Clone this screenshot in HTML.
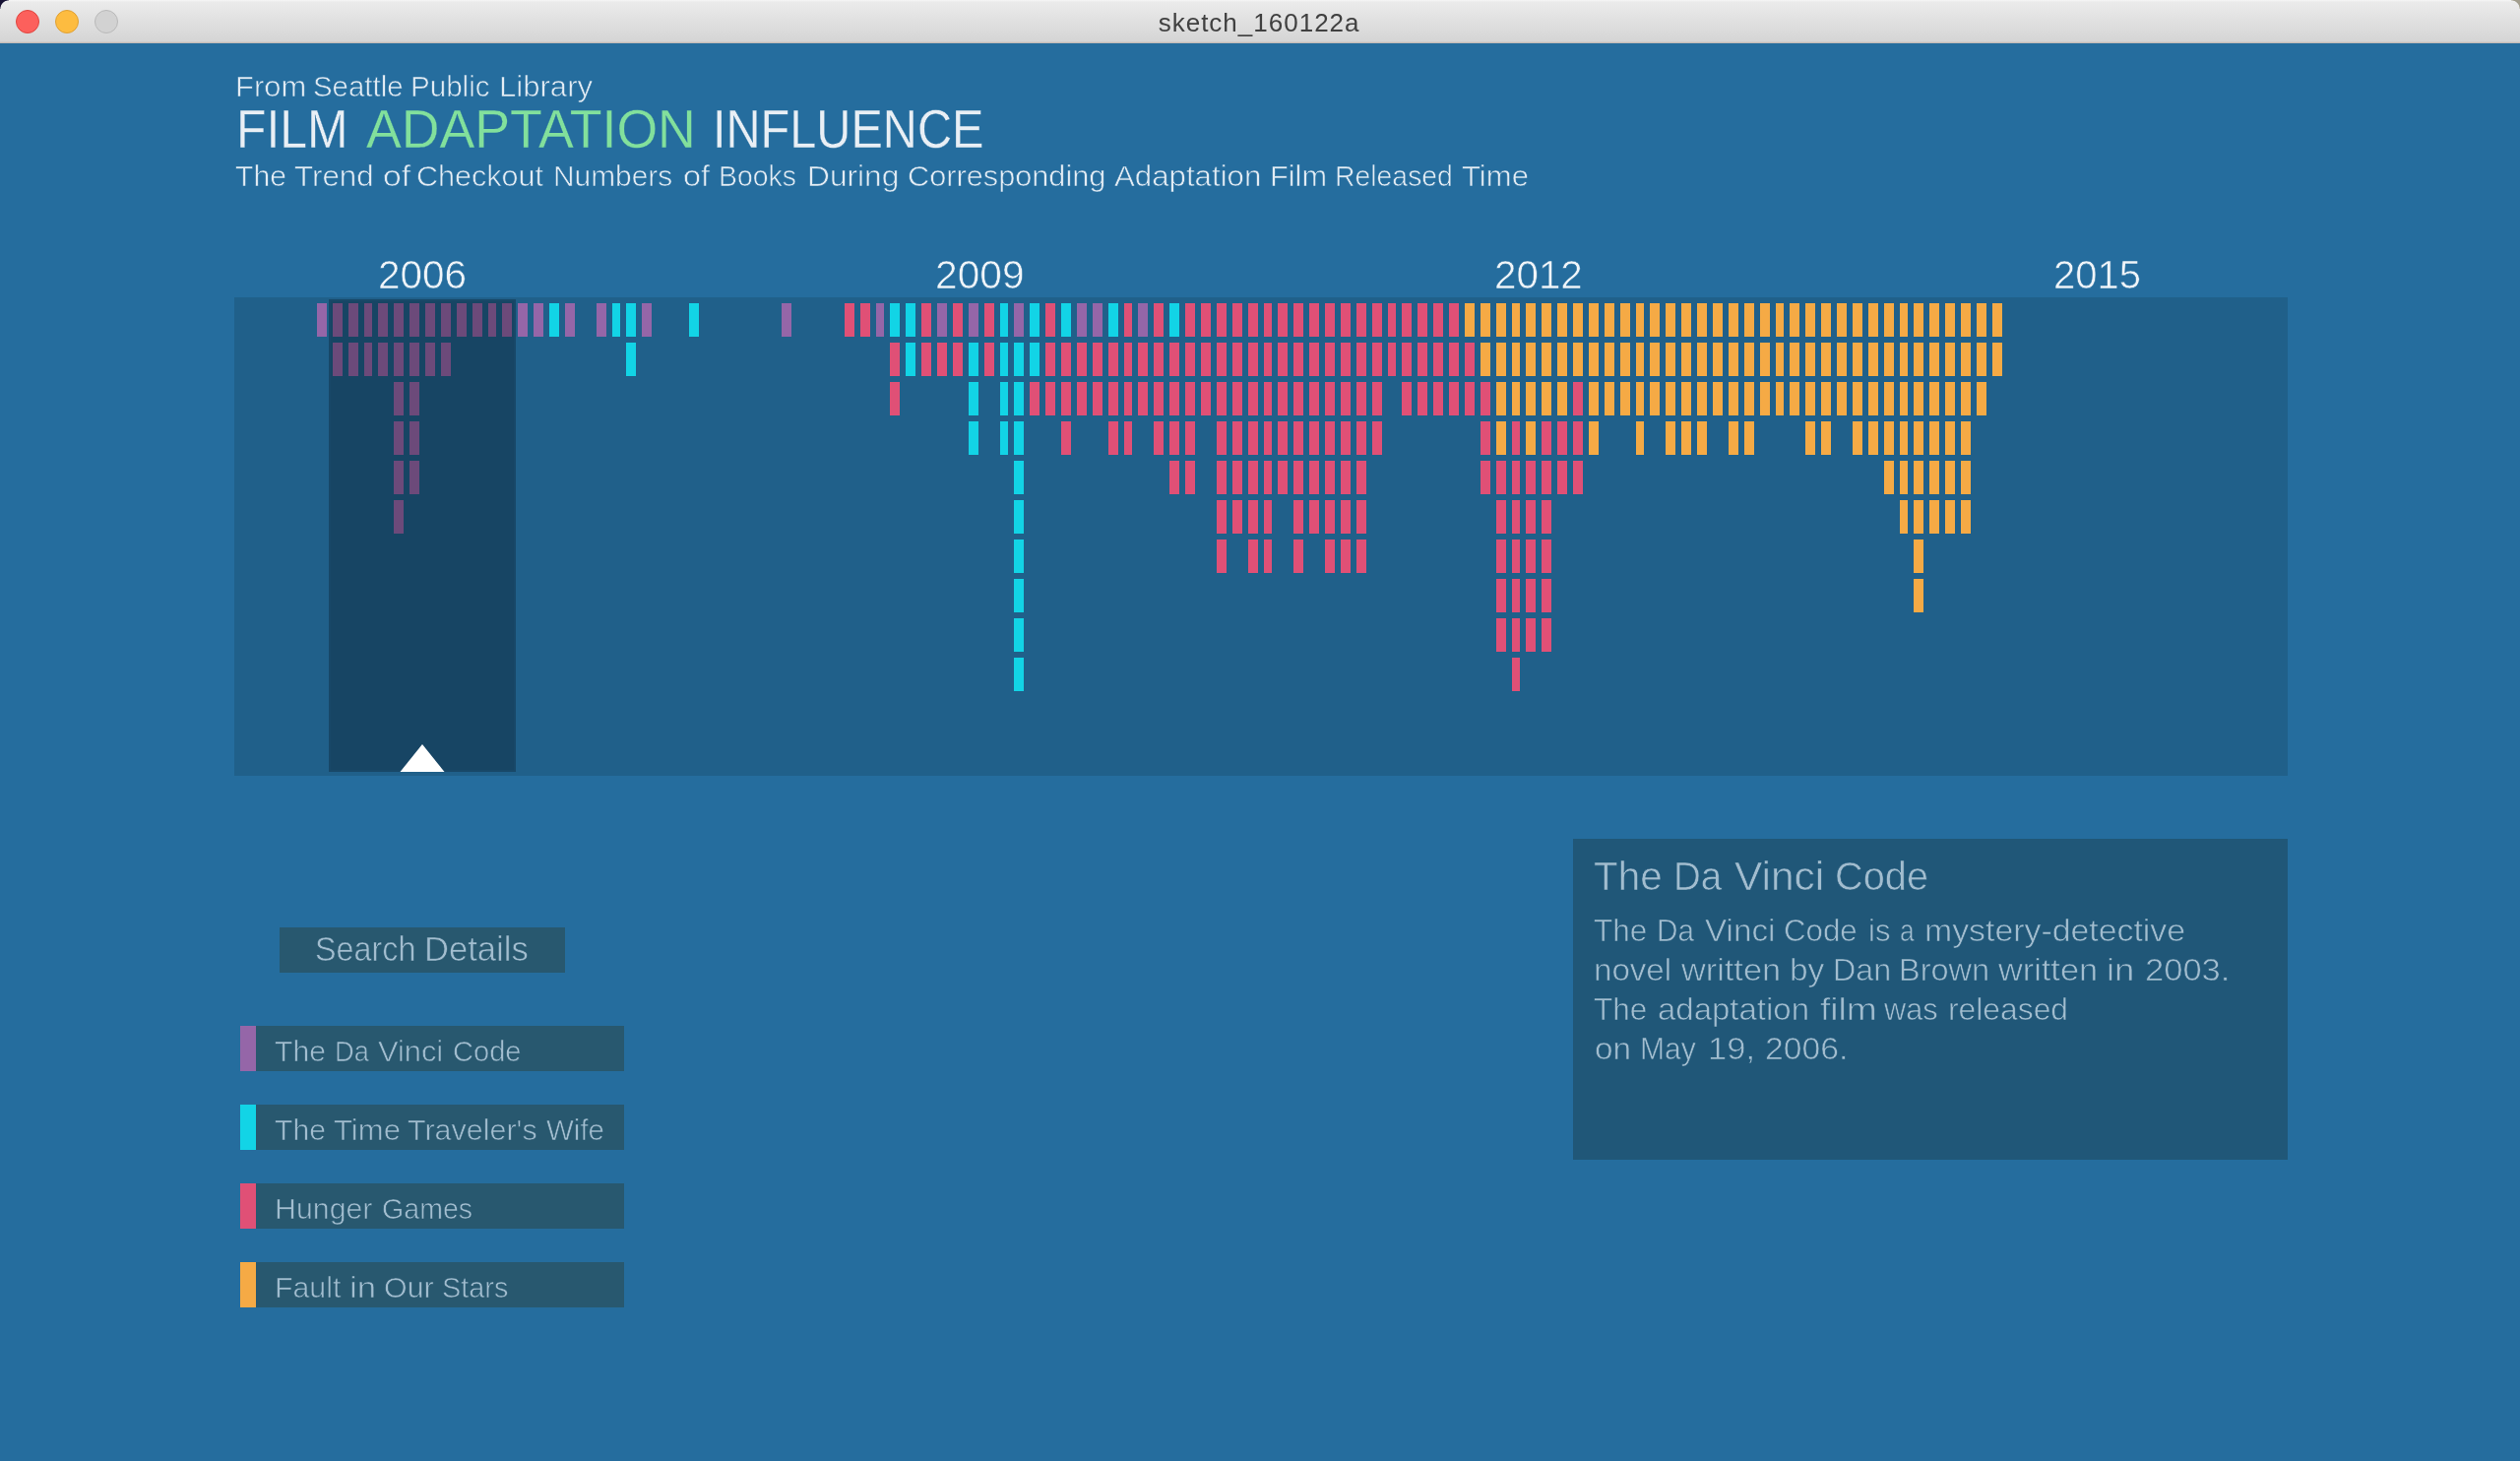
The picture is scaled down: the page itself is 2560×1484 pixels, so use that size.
<!DOCTYPE html>
<html><head><meta charset="utf-8"><title>sketch_160122a</title>
<style>
html,body{margin:0;padding:0;}
body{width:2560px;height:1484px;overflow:hidden;background:#256D9E;position:relative;font-family:"Liberation Sans",sans-serif;}
.t{position:absolute;white-space:pre;transform-origin:left top;}
.abs{position:absolute;}
#titlebar{left:0;top:0;width:2560px;height:44px;background:linear-gradient(#f6f6f6 0px,#ebebeb 2px,#e0e0e0 22px,#d5d5d5 42px,#c4bcb8 43.5px,#bdb3ae 44px);}
.cornerL{left:0;top:0;width:9px;height:9px;background:radial-gradient(circle at 9px 9px,rgba(0,0,0,0) 8.2px,#171234 9px);}
.cornerR{left:2551px;top:0;width:9px;height:9px;background:radial-gradient(circle at 0px 9px,rgba(0,0,0,0) 8.2px,#a29e8e 9px);}
.dot{position:absolute;top:10px;width:22px;height:22px;border-radius:50%;border:1px solid;}
</style></head><body>
<div class="abs" id="titlebar"></div>
<div class="abs cornerL"></div><div class="abs cornerR"></div>
<div class="dot" style="left:16px;background:#fc605c;border-color:#e0443e"></div>
<div class="dot" style="left:56px;background:#fdbc40;border-color:#dfa033"></div>
<div class="dot" style="left:96px;background:#d2d2d2;border-color:#b9b9b9"></div>
<svg class="abs" style="left:0;top:0" width="2560" height="1484" viewBox="0 0 2560 1484" shape-rendering="crispEdges">
<rect x="238" y="302" width="2086" height="486" fill="#20608A"/>
<path fill="#9566A8" d="M322 308h10v34h-10zM338 308h10v34h-10zM354 308h10v34h-10zM370 308h8v34h-8zM384 308h10v34h-10zM400 308h10v34h-10zM416 308h10v34h-10zM432 308h10v34h-10zM448 308h10v34h-10zM464 308h10v34h-10zM480 308h10v34h-10zM496 308h8v34h-8zM510 308h10v34h-10zM526 308h10v34h-10zM542 308h10v34h-10zM574 308h10v34h-10zM606 308h10v34h-10zM652 308h10v34h-10zM794 308h10v34h-10zM890 308h8v34h-8zM952 308h10v34h-10zM984 308h10v34h-10zM1030 308h10v34h-10zM1094 308h10v34h-10zM1110 308h10v34h-10zM1156 308h10v34h-10zM338 348h10v34h-10zM354 348h10v34h-10zM370 348h8v34h-8zM384 348h10v34h-10zM400 348h10v34h-10zM416 348h10v34h-10zM432 348h10v34h-10zM448 348h10v34h-10zM400 388h10v34h-10zM416 388h10v34h-10zM400 428h10v34h-10zM416 428h10v34h-10zM400 468h10v34h-10zM416 468h10v34h-10zM400 508h10v34h-10z"/><path fill="#12D4E6" d="M558 308h10v34h-10zM622 308h8v34h-8zM636 308h10v34h-10zM700 308h10v34h-10zM904 308h10v34h-10zM920 308h10v34h-10zM1016 308h8v34h-8zM1046 308h10v34h-10zM1078 308h10v34h-10zM1126 308h10v34h-10zM1188 308h10v34h-10zM636 348h10v34h-10zM920 348h10v34h-10zM984 348h10v34h-10zM1016 348h8v34h-8zM1030 348h10v34h-10zM1046 348h10v34h-10zM984 388h10v34h-10zM1016 388h8v34h-8zM1030 388h10v34h-10zM984 428h10v34h-10zM1016 428h8v34h-8zM1030 428h10v34h-10zM1030 468h10v34h-10zM1030 508h10v34h-10zM1030 548h10v34h-10zM1030 588h10v34h-10zM1030 628h10v34h-10zM1030 668h10v34h-10z"/><path fill="#E05076" d="M858 308h10v34h-10zM874 308h10v34h-10zM936 308h10v34h-10zM968 308h10v34h-10zM1000 308h10v34h-10zM1062 308h10v34h-10zM1142 308h8v34h-8zM1172 308h10v34h-10zM1204 308h10v34h-10zM1220 308h10v34h-10zM1236 308h10v34h-10zM1252 308h10v34h-10zM1268 308h10v34h-10zM1284 308h8v34h-8zM1298 308h10v34h-10zM1314 308h10v34h-10zM1330 308h10v34h-10zM1346 308h10v34h-10zM1362 308h10v34h-10zM1378 308h10v34h-10zM1394 308h10v34h-10zM1410 308h8v34h-8zM1424 308h10v34h-10zM1440 308h10v34h-10zM1456 308h10v34h-10zM1472 308h10v34h-10zM904 348h10v34h-10zM936 348h10v34h-10zM952 348h10v34h-10zM968 348h10v34h-10zM1000 348h10v34h-10zM1062 348h10v34h-10zM1078 348h10v34h-10zM1094 348h10v34h-10zM1110 348h10v34h-10zM1126 348h10v34h-10zM1142 348h8v34h-8zM1156 348h10v34h-10zM1172 348h10v34h-10zM1188 348h10v34h-10zM1204 348h10v34h-10zM1220 348h10v34h-10zM1236 348h10v34h-10zM1252 348h10v34h-10zM1268 348h10v34h-10zM1284 348h8v34h-8zM1298 348h10v34h-10zM1314 348h10v34h-10zM1330 348h10v34h-10zM1346 348h10v34h-10zM1362 348h10v34h-10zM1378 348h10v34h-10zM1394 348h10v34h-10zM1410 348h8v34h-8zM1424 348h10v34h-10zM1440 348h10v34h-10zM1456 348h10v34h-10zM1472 348h10v34h-10zM1488 348h10v34h-10zM904 388h10v34h-10zM1046 388h10v34h-10zM1062 388h10v34h-10zM1078 388h10v34h-10zM1094 388h10v34h-10zM1110 388h10v34h-10zM1126 388h10v34h-10zM1142 388h8v34h-8zM1156 388h10v34h-10zM1172 388h10v34h-10zM1188 388h10v34h-10zM1204 388h10v34h-10zM1220 388h10v34h-10zM1236 388h10v34h-10zM1252 388h10v34h-10zM1268 388h10v34h-10zM1284 388h8v34h-8zM1298 388h10v34h-10zM1314 388h10v34h-10zM1330 388h10v34h-10zM1346 388h10v34h-10zM1362 388h10v34h-10zM1378 388h10v34h-10zM1394 388h10v34h-10zM1424 388h10v34h-10zM1440 388h10v34h-10zM1456 388h10v34h-10zM1472 388h10v34h-10zM1488 388h10v34h-10zM1504 388h10v34h-10zM1598 388h10v34h-10zM1078 428h10v34h-10zM1126 428h10v34h-10zM1142 428h8v34h-8zM1172 428h10v34h-10zM1188 428h10v34h-10zM1204 428h10v34h-10zM1236 428h10v34h-10zM1252 428h10v34h-10zM1268 428h10v34h-10zM1284 428h8v34h-8zM1298 428h10v34h-10zM1314 428h10v34h-10zM1330 428h10v34h-10zM1346 428h10v34h-10zM1362 428h10v34h-10zM1378 428h10v34h-10zM1394 428h10v34h-10zM1504 428h10v34h-10zM1536 428h8v34h-8zM1566 428h10v34h-10zM1582 428h10v34h-10zM1598 428h10v34h-10zM1188 468h10v34h-10zM1204 468h10v34h-10zM1236 468h10v34h-10zM1252 468h10v34h-10zM1268 468h10v34h-10zM1284 468h8v34h-8zM1298 468h10v34h-10zM1314 468h10v34h-10zM1330 468h10v34h-10zM1346 468h10v34h-10zM1362 468h10v34h-10zM1378 468h10v34h-10zM1504 468h10v34h-10zM1520 468h10v34h-10zM1536 468h8v34h-8zM1550 468h10v34h-10zM1566 468h10v34h-10zM1582 468h10v34h-10zM1598 468h10v34h-10zM1236 508h10v34h-10zM1252 508h10v34h-10zM1268 508h10v34h-10zM1284 508h8v34h-8zM1314 508h10v34h-10zM1330 508h10v34h-10zM1346 508h10v34h-10zM1362 508h10v34h-10zM1378 508h10v34h-10zM1520 508h10v34h-10zM1536 508h8v34h-8zM1550 508h10v34h-10zM1566 508h10v34h-10zM1236 548h10v34h-10zM1268 548h10v34h-10zM1284 548h8v34h-8zM1314 548h10v34h-10zM1346 548h10v34h-10zM1362 548h10v34h-10zM1378 548h10v34h-10zM1520 548h10v34h-10zM1536 548h8v34h-8zM1550 548h10v34h-10zM1566 548h10v34h-10zM1520 588h10v34h-10zM1536 588h8v34h-8zM1550 588h10v34h-10zM1566 588h10v34h-10zM1520 628h10v34h-10zM1536 628h8v34h-8zM1550 628h10v34h-10zM1566 628h10v34h-10zM1536 668h8v34h-8z"/><path fill="#F5AA45" d="M1488 308h10v34h-10zM1504 308h10v34h-10zM1520 308h10v34h-10zM1536 308h8v34h-8zM1550 308h10v34h-10zM1566 308h10v34h-10zM1582 308h10v34h-10zM1598 308h10v34h-10zM1614 308h10v34h-10zM1630 308h10v34h-10zM1646 308h10v34h-10zM1662 308h8v34h-8zM1676 308h10v34h-10zM1692 308h10v34h-10zM1708 308h10v34h-10zM1724 308h10v34h-10zM1740 308h10v34h-10zM1756 308h10v34h-10zM1772 308h10v34h-10zM1788 308h10v34h-10zM1804 308h8v34h-8zM1818 308h10v34h-10zM1834 308h10v34h-10zM1850 308h10v34h-10zM1866 308h10v34h-10zM1882 308h10v34h-10zM1898 308h10v34h-10zM1914 308h10v34h-10zM1930 308h8v34h-8zM1944 308h10v34h-10zM1960 308h10v34h-10zM1976 308h10v34h-10zM1992 308h10v34h-10zM2008 308h10v34h-10zM2024 308h10v34h-10zM1504 348h10v34h-10zM1520 348h10v34h-10zM1536 348h8v34h-8zM1550 348h10v34h-10zM1566 348h10v34h-10zM1582 348h10v34h-10zM1598 348h10v34h-10zM1614 348h10v34h-10zM1630 348h10v34h-10zM1646 348h10v34h-10zM1662 348h8v34h-8zM1676 348h10v34h-10zM1692 348h10v34h-10zM1708 348h10v34h-10zM1724 348h10v34h-10zM1740 348h10v34h-10zM1756 348h10v34h-10zM1772 348h10v34h-10zM1788 348h10v34h-10zM1804 348h8v34h-8zM1818 348h10v34h-10zM1834 348h10v34h-10zM1850 348h10v34h-10zM1866 348h10v34h-10zM1882 348h10v34h-10zM1898 348h10v34h-10zM1914 348h10v34h-10zM1930 348h8v34h-8zM1944 348h10v34h-10zM1960 348h10v34h-10zM1976 348h10v34h-10zM1992 348h10v34h-10zM2008 348h10v34h-10zM2024 348h10v34h-10zM1520 388h10v34h-10zM1536 388h8v34h-8zM1550 388h10v34h-10zM1566 388h10v34h-10zM1582 388h10v34h-10zM1614 388h10v34h-10zM1630 388h10v34h-10zM1646 388h10v34h-10zM1662 388h8v34h-8zM1676 388h10v34h-10zM1692 388h10v34h-10zM1708 388h10v34h-10zM1724 388h10v34h-10zM1740 388h10v34h-10zM1756 388h10v34h-10zM1772 388h10v34h-10zM1788 388h10v34h-10zM1804 388h8v34h-8zM1818 388h10v34h-10zM1834 388h10v34h-10zM1850 388h10v34h-10zM1866 388h10v34h-10zM1882 388h10v34h-10zM1898 388h10v34h-10zM1914 388h10v34h-10zM1930 388h8v34h-8zM1944 388h10v34h-10zM1960 388h10v34h-10zM1976 388h10v34h-10zM1992 388h10v34h-10zM2008 388h10v34h-10zM1520 428h10v34h-10zM1550 428h10v34h-10zM1614 428h10v34h-10zM1662 428h8v34h-8zM1692 428h10v34h-10zM1708 428h10v34h-10zM1724 428h10v34h-10zM1756 428h10v34h-10zM1772 428h10v34h-10zM1834 428h10v34h-10zM1850 428h10v34h-10zM1882 428h10v34h-10zM1898 428h10v34h-10zM1914 428h10v34h-10zM1930 428h8v34h-8zM1944 428h10v34h-10zM1960 428h10v34h-10zM1976 428h10v34h-10zM1992 428h10v34h-10zM1914 468h10v34h-10zM1930 468h8v34h-8zM1944 468h10v34h-10zM1960 468h10v34h-10zM1976 468h10v34h-10zM1992 468h10v34h-10zM1930 508h8v34h-8zM1944 508h10v34h-10zM1960 508h10v34h-10zM1976 508h10v34h-10zM1992 508h10v34h-10zM1944 548h10v34h-10zM1944 588h10v34h-10z"/>
<rect x="336" y="306" width="186" height="476" fill="rgba(0,0,0,0.275)"/><path fill-rule="evenodd" fill="rgba(0,0,0,0.245)" d="M334 304h190v480h-190zM336 306v476h186v-476z"/>
<path d="M429 756L451.5 784H406.5z" fill="#ffffff" shape-rendering="geometricPrecision"/>
<rect x="1598" y="852" width="726" height="326" fill="#205778"/>
<rect x="284" y="942" width="290" height="46" fill="#28586F"/>
<g>
<rect x="260" y="1042" width="374" height="46" fill="#28586F"/><rect x="244" y="1042" width="16" height="46" fill="#9566A8"/>
<rect x="260" y="1122" width="374" height="46" fill="#28586F"/><rect x="244" y="1122" width="16" height="46" fill="#12D4E6"/>
<rect x="260" y="1202" width="374" height="46" fill="#28586F"/><rect x="244" y="1202" width="16" height="46" fill="#E05076"/>
<rect x="260" y="1282" width="374" height="46" fill="#28586F"/><rect x="244" y="1282" width="16" height="46" fill="#F5AA45"/>
</g>
</svg>
<div class="abs" style="left:0;top:0;width:2560px;height:1484px;will-change:transform">
<div class="t" style="left:1176.70px;top:9.99px;font-size:26.00px;line-height:26.00px;color:#404040;letter-spacing:1.000px;">sketch_160122a</div>
<div class="t" style="left:238.73px;top:74.45px;font-size:29.00px;line-height:29.00px;color:#E3ECF4;transform:scaleX(1.0667);-webkit-text-stroke:0.6px #256D9E;">From</div>
<div class="t" style="left:317.63px;top:74.45px;font-size:29.00px;line-height:29.00px;color:#E3ECF4;transform:scaleX(1.0138);-webkit-text-stroke:0.6px #256D9E;">Seattle</div>
<div class="t" style="left:417.35px;top:74.45px;font-size:29.00px;line-height:29.00px;color:#E3ECF4;transform:scaleX(1.0193);-webkit-text-stroke:0.6px #256D9E;">Public</div>
<div class="t" style="left:507.22px;top:74.45px;font-size:29.00px;line-height:29.00px;color:#E3ECF4;transform:scaleX(1.0725);-webkit-text-stroke:0.6px #256D9E;">Library</div>
<div class="t" style="left:240.33px;top:104.44px;font-size:55.00px;line-height:55.00px;color:#E9EFF5;transform:scaleX(0.9049);-webkit-text-stroke:0.3px #256D9E;">FILM</div>
<div class="t" style="left:723.98px;top:104.44px;font-size:55.00px;line-height:55.00px;color:#E9EFF5;transform:scaleX(0.8835);-webkit-text-stroke:0.3px #256D9E;">INFLUENCE</div>
<div class="t" style="left:371.91px;top:104.44px;font-size:55.00px;line-height:55.00px;color:#82E09C;transform:scaleX(0.9755);-webkit-text-stroke:0.3px #256D9E;">ADAPTATION</div>
<div class="t" style="left:239.36px;top:164.95px;font-size:29.00px;line-height:29.00px;color:#E3ECF4;transform:scaleX(1.0413);-webkit-text-stroke:0.6px #256D9E;">The</div>
<div class="t" style="left:299.32px;top:164.95px;font-size:29.00px;line-height:29.00px;color:#E3ECF4;transform:scaleX(1.0797);-webkit-text-stroke:0.6px #256D9E;">Trend</div>
<div class="t" style="left:388.65px;top:164.95px;font-size:29.00px;line-height:29.00px;color:#E3ECF4;transform:scaleX(1.1644);-webkit-text-stroke:0.6px #256D9E;">of</div>
<div class="t" style="left:423.06px;top:164.95px;font-size:29.00px;line-height:29.00px;color:#E3ECF4;transform:scaleX(1.0536);-webkit-text-stroke:0.6px #256D9E;">Checkout</div>
<div class="t" style="left:561.82px;top:164.95px;font-size:29.00px;line-height:29.00px;color:#E3ECF4;transform:scaleX(1.0303);-webkit-text-stroke:0.6px #256D9E;">Numbers</div>
<div class="t" style="left:693.72px;top:164.95px;font-size:29.00px;line-height:29.00px;color:#E3ECF4;transform:scaleX(1.1200);-webkit-text-stroke:0.6px #256D9E;">of</div>
<div class="t" style="left:729.95px;top:164.95px;font-size:29.00px;line-height:29.00px;color:#E3ECF4;transform:scaleX(0.9798);-webkit-text-stroke:0.6px #256D9E;">Books</div>
<div class="t" style="left:819.67px;top:164.95px;font-size:29.00px;line-height:29.00px;color:#E3ECF4;transform:scaleX(1.0923);-webkit-text-stroke:0.6px #256D9E;">During</div>
<div class="t" style="left:921.55px;top:164.95px;font-size:29.00px;line-height:29.00px;color:#E3ECF4;transform:scaleX(1.0588);-webkit-text-stroke:0.6px #256D9E;">Corresponding</div>
<div class="t" style="left:1132.09px;top:164.95px;font-size:29.00px;line-height:29.00px;color:#E3ECF4;transform:scaleX(1.0770);-webkit-text-stroke:0.6px #256D9E;">Adaptation</div>
<div class="t" style="left:1289.75px;top:164.95px;font-size:29.00px;line-height:29.00px;color:#E3ECF4;transform:scaleX(1.0587);-webkit-text-stroke:0.6px #256D9E;">Film</div>
<div class="t" style="left:1355.95px;top:164.95px;font-size:29.00px;line-height:29.00px;color:#E3ECF4;transform:scaleX(0.9783);-webkit-text-stroke:0.6px #256D9E;">Released</div>
<div class="t" style="left:1485.33px;top:164.95px;font-size:29.00px;line-height:29.00px;color:#E3ECF4;transform:scaleX(1.0733);-webkit-text-stroke:0.6px #256D9E;">Time</div>
<div class="t" style="left:384.15px;top:258.72px;font-size:40.50px;line-height:40.50px;color:#F0F5F9;transform:scaleX(0.9994);-webkit-text-stroke:0.6px #256D9E;">2006</div>
<div class="t" style="left:950.14px;top:258.72px;font-size:40.50px;line-height:40.50px;color:#F0F5F9;transform:scaleX(1.0052);-webkit-text-stroke:0.6px #256D9E;">2009</div>
<div class="t" style="left:1518.16px;top:258.72px;font-size:40.50px;line-height:40.50px;color:#F0F5F9;transform:scaleX(0.9965);-webkit-text-stroke:0.6px #256D9E;">2012</div>
<div class="t" style="left:2086.18px;top:258.72px;font-size:40.50px;line-height:40.50px;color:#F0F5F9;transform:scaleX(0.9878);-webkit-text-stroke:0.6px #256D9E;">2015</div>
<div class="t" style="left:319.54px;top:946.54px;font-size:34.80px;line-height:34.80px;color:#A2BDCF;transform:scaleX(0.9286);-webkit-text-stroke:0.6px #28586F;">Search</div>
<div class="t" style="left:431.42px;top:946.54px;font-size:34.80px;line-height:34.80px;color:#A2BDCF;transform:scaleX(0.9946);-webkit-text-stroke:0.6px #28586F;">Details</div>
<div class="t" style="left:279.36px;top:1054.45px;font-size:29.00px;line-height:29.00px;color:#A2BDCF;transform:scaleX(1.0413);-webkit-text-stroke:0.6px #28586F;">The</div>
<div class="t" style="left:340.05px;top:1054.45px;font-size:29.00px;line-height:29.00px;color:#A2BDCF;transform:scaleX(0.9401);-webkit-text-stroke:0.6px #28586F;">Da</div>
<div class="t" style="left:383.60px;top:1054.45px;font-size:29.00px;line-height:29.00px;color:#A2BDCF;transform:scaleX(1.0622);-webkit-text-stroke:0.6px #28586F;">Vinci</div>
<div class="t" style="left:459.64px;top:1054.45px;font-size:29.00px;line-height:29.00px;color:#A2BDCF;transform:scaleX(1.0030);-webkit-text-stroke:0.6px #28586F;">Code</div>
<div class="t" style="left:279.36px;top:1134.45px;font-size:29.00px;line-height:29.00px;color:#A2BDCF;transform:scaleX(1.0413);-webkit-text-stroke:0.6px #28586F;">The</div>
<div class="t" style="left:339.33px;top:1134.45px;font-size:29.00px;line-height:29.00px;color:#A2BDCF;transform:scaleX(1.0733);-webkit-text-stroke:0.6px #28586F;">Time</div>
<div class="t" style="left:414.35px;top:1134.45px;font-size:29.00px;line-height:29.00px;color:#A2BDCF;transform:scaleX(1.0504);-webkit-text-stroke:0.6px #28586F;">Traveler&#x27;s</div>
<div class="t" style="left:554.64px;top:1134.45px;font-size:29.00px;line-height:29.00px;color:#A2BDCF;transform:scaleX(1.0170);-webkit-text-stroke:0.6px #28586F;">Wife</div>
<div class="t" style="left:278.79px;top:1214.45px;font-size:29.00px;line-height:29.00px;color:#A2BDCF;transform:scaleX(1.0457);-webkit-text-stroke:0.6px #28586F;">Hunger</div>
<div class="t" style="left:387.68px;top:1214.45px;font-size:29.00px;line-height:29.00px;color:#A2BDCF;transform:scaleX(0.9856);-webkit-text-stroke:0.6px #28586F;">Games</div>
<div class="t" style="left:278.79px;top:1294.45px;font-size:29.00px;line-height:29.00px;color:#A2BDCF;transform:scaleX(1.0439);-webkit-text-stroke:0.6px #28586F;">Fault</div>
<div class="t" style="left:355.00px;top:1294.45px;font-size:29.00px;line-height:29.00px;color:#A2BDCF;transform:scaleX(1.2000);-webkit-text-stroke:0.6px #28586F;">in</div>
<div class="t" style="left:389.57px;top:1294.45px;font-size:29.00px;line-height:29.00px;color:#A2BDCF;transform:scaleX(1.0478);-webkit-text-stroke:0.6px #28586F;">Our</div>
<div class="t" style="left:448.66px;top:1294.45px;font-size:29.00px;line-height:29.00px;color:#A2BDCF;transform:scaleX(0.9953);-webkit-text-stroke:0.6px #28586F;">Stars</div>
<div class="t" style="left:1619.16px;top:869.63px;font-size:40.60px;line-height:40.60px;color:#A2BDCF;transform:scaleX(0.9955);-webkit-text-stroke:0.6px #205778;">The</div>
<div class="t" style="left:1699.58px;top:869.63px;font-size:40.60px;line-height:40.60px;color:#A2BDCF;transform:scaleX(0.9472);-webkit-text-stroke:0.6px #205778;">Da</div>
<div class="t" style="left:1762.12px;top:869.63px;font-size:40.60px;line-height:40.60px;color:#A2BDCF;transform:scaleX(1.0455);-webkit-text-stroke:0.6px #205778;">Vinci</div>
<div class="t" style="left:1864.20px;top:869.63px;font-size:40.60px;line-height:40.60px;color:#A2BDCF;transform:scaleX(0.9790);-webkit-text-stroke:0.6px #205778;">Code</div>
<div class="t" style="left:1619.41px;top:930.00px;font-size:31.90px;line-height:31.90px;color:#A2BDCF;transform:scaleX(0.9895);-webkit-text-stroke:0.6px #205778;">The</div>
<div class="t" style="left:1682.84px;top:930.00px;font-size:31.90px;line-height:31.90px;color:#A2BDCF;transform:scaleX(0.9325);-webkit-text-stroke:0.6px #205778;">Da</div>
<div class="t" style="left:1731.62px;top:930.00px;font-size:31.90px;line-height:31.90px;color:#A2BDCF;transform:scaleX(1.0412);-webkit-text-stroke:0.6px #205778;">Vinci</div>
<div class="t" style="left:1811.69px;top:930.00px;font-size:31.90px;line-height:31.90px;color:#A2BDCF;transform:scaleX(0.9787);-webkit-text-stroke:0.6px #205778;">Code</div>
<div class="t" style="left:1898.21px;top:930.00px;font-size:31.90px;line-height:31.90px;color:#A2BDCF;transform:scaleX(0.9714);-webkit-text-stroke:0.6px #205778;">is</div>
<div class="t" style="left:1930.16px;top:930.00px;font-size:31.90px;line-height:31.90px;color:#A2BDCF;transform:scaleX(0.8250);-webkit-text-stroke:0.6px #205778;">a</div>
<div class="t" style="left:1955.25px;top:930.00px;font-size:31.90px;line-height:31.90px;color:#A2BDCF;transform:scaleX(1.0608);-webkit-text-stroke:0.6px #205778;">mystery-detective</div>
<div class="t" style="left:1618.81px;top:970.00px;font-size:31.90px;line-height:31.90px;color:#A2BDCF;transform:scaleX(1.0378);-webkit-text-stroke:0.6px #205778;">novel</div>
<div class="t" style="left:1707.86px;top:970.00px;font-size:31.90px;line-height:31.90px;color:#A2BDCF;transform:scaleX(1.0762);-webkit-text-stroke:0.6px #205778;">written</div>
<div class="t" style="left:1818.04px;top:970.00px;font-size:31.90px;line-height:31.90px;color:#A2BDCF;transform:scaleX(1.0472);-webkit-text-stroke:0.6px #205778;">by</div>
<div class="t" style="left:1861.61px;top:970.00px;font-size:31.90px;line-height:31.90px;color:#A2BDCF;transform:scaleX(1.0131);-webkit-text-stroke:0.6px #205778;">Dan</div>
<div class="t" style="left:1928.60px;top:970.00px;font-size:31.90px;line-height:31.90px;color:#A2BDCF;transform:scaleX(1.0199);-webkit-text-stroke:0.6px #205778;">Brown</div>
<div class="t" style="left:2029.86px;top:970.00px;font-size:31.90px;line-height:31.90px;color:#A2BDCF;transform:scaleX(1.0762);-webkit-text-stroke:0.6px #205778;">written</div>
<div class="t" style="left:2139.82px;top:970.00px;font-size:31.90px;line-height:31.90px;color:#A2BDCF;transform:scaleX(1.1457);-webkit-text-stroke:0.6px #205778;">in</div>
<div class="t" style="left:2178.51px;top:970.00px;font-size:31.90px;line-height:31.90px;color:#A2BDCF;transform:scaleX(1.0827);-webkit-text-stroke:0.6px #205778;">2003.</div>
<div class="t" style="left:1619.41px;top:1010.00px;font-size:31.90px;line-height:31.90px;color:#A2BDCF;transform:scaleX(0.9895);-webkit-text-stroke:0.6px #205778;">The</div>
<div class="t" style="left:1683.85px;top:1010.00px;font-size:31.90px;line-height:31.90px;color:#A2BDCF;transform:scaleX(1.0341);-webkit-text-stroke:0.6px #205778;">adaptation</div>
<div class="t" style="left:1848.53px;top:1010.00px;font-size:31.90px;line-height:31.90px;color:#A2BDCF;transform:scaleX(1.1656);-webkit-text-stroke:0.6px #205778;">film</div>
<div class="t" style="left:1913.92px;top:1010.00px;font-size:31.90px;line-height:31.90px;color:#A2BDCF;transform:scaleX(0.9626);-webkit-text-stroke:0.6px #205778;">was</div>
<div class="t" style="left:1978.91px;top:1010.00px;font-size:31.90px;line-height:31.90px;color:#A2BDCF;transform:scaleX(0.9974);-webkit-text-stroke:0.6px #205778;">released</div>
<div class="t" style="left:1619.83px;top:1050.00px;font-size:31.90px;line-height:31.90px;color:#A2BDCF;transform:scaleX(1.0457);-webkit-text-stroke:0.6px #205778;">on</div>
<div class="t" style="left:1665.81px;top:1050.00px;font-size:31.90px;line-height:31.90px;color:#A2BDCF;transform:scaleX(0.9421);-webkit-text-stroke:0.6px #205778;">May</div>
<div class="t" style="left:1734.92px;top:1050.00px;font-size:31.90px;line-height:31.90px;color:#A2BDCF;transform:scaleX(1.0831);-webkit-text-stroke:0.6px #205778;">19,</div>
<div class="t" style="left:1792.55px;top:1050.00px;font-size:31.90px;line-height:31.90px;color:#A2BDCF;transform:scaleX(1.0560);-webkit-text-stroke:0.6px #205778;">2006.</div>
</div>
</body></html>
